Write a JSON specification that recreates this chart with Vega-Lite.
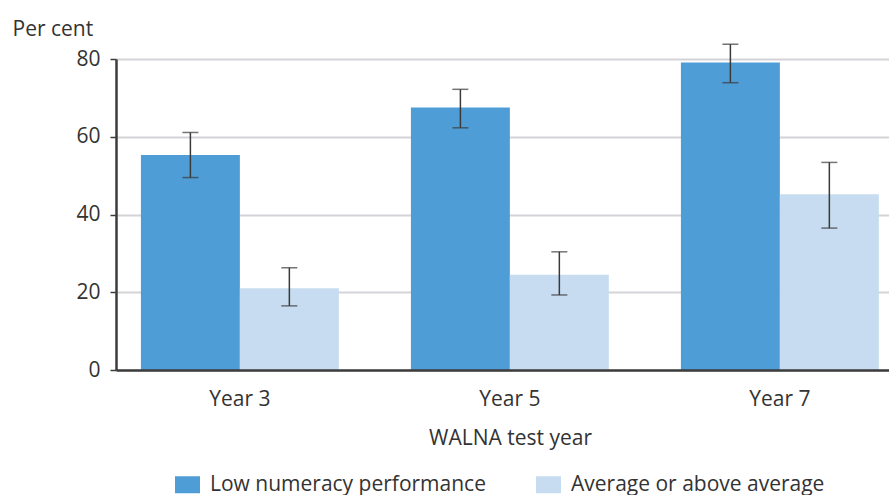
{
  "$schema": "https://vega.github.io/schema/vega-lite/v6.json",
  "width": 773,
  "height": 311,
  "autosize": "none",
  "padding": {"left": 116, "top": 59, "right": 0, "bottom": 125},
  "background": "white",
  "config": {
    "view": {"stroke": null},
    "font": "Open Sans",
    "axis": {"labelColor": "#333333", "titleColor": "#333333", "labelFont": "Open Sans", "titleFont": "Open Sans", "titleFontWeight": "normal"}
  },
  "data": {
    "values": [
      {"year": "Year 3", "group": "Low numeracy performance", "value": 55.3, "lo": 49.5, "hi": 61.1},
      {"year": "Year 3", "group": "Average or above average", "value": 21.0, "lo": 16.5, "hi": 26.3},
      {"year": "Year 5", "group": "Low numeracy performance", "value": 67.5, "lo": 62.3, "hi": 72.2},
      {"year": "Year 5", "group": "Average or above average", "value": 24.5, "lo": 19.3, "hi": 30.4},
      {"year": "Year 7", "group": "Low numeracy performance", "value": 79.1, "lo": 73.9, "hi": 83.8},
      {"year": "Year 7", "group": "Average or above average", "value": 45.2, "lo": 36.5, "hi": 53.4}
    ]
  },
  "encoding": {
    "x": {
      "field": "year",
      "type": "nominal",
      "scale": {"paddingInner": 0.267, "paddingOuter": 0.065, "align": 0.71},
      "axis": {
        "title": "WALNA test year",
        "labelAngle": 0,
        "labelFontSize": 21,
        "titleFontSize": 21,
        "ticks": false,
        "labelPadding": 18,
        "titlePadding": 18,
        "titleX": 394,
        "titleAlign": "center",
        "domainColor": "#3c3c3c",
        "domainWidth": 2.5,
        "zindex": 1
      }
    },
    "xOffset": {
      "field": "group",
      "type": "nominal",
      "sort": ["Low numeracy performance", "Average or above average"],
      "scale": {"paddingInner": 0, "paddingOuter": 0}
    }
  },
  "layer": [
    {
      "mark": {"type": "bar"},
      "encoding": {
        "y": {
          "field": "value",
          "type": "quantitative",
          "scale": {"domain": [0, 80], "nice": false},
          "axis": {
            "title": "Per cent",
            "titleAngle": 0,
            "titleAlign": "left",
            "titleBaseline": "alphabetic",
            "titleX": -104,
            "titleY": -24,
            "titleFontSize": 21,
            "labelFontSize": 21,
            "values": [0, 20, 40, 60, 80],
            "tickSize": 6,
            "tickColor": "#3c3c3c",
            "tickWidth": 1.5,
            "labelPadding": 10,
            "domainColor": "#3c3c3c",
            "domainWidth": 2.5,
            "gridColor": "#d3d3d8",
            "gridWidth": 2,
            "zindex": 0
          }
        },
        "color": {
          "field": "group",
          "type": "nominal",
          "sort": ["Low numeracy performance", "Average or above average"],
          "scale": {"range": ["#4f9dd6", "#c7dcf0"]},
          "legend": {
            "title": null,
            "orient": "none",
            "direction": "horizontal",
            "legendX": 59,
            "legendY": 413,
            "padding": 0,
            "symbolType": "M-1,-0.68H1V0.68H-1Z",
            "symbolSize": 625,
            "symbolStrokeWidth": 0,
            "symbolOpacity": 1,
            "labelFontSize": 21,
            "labelColor": "#333333",
            "labelOffset": 10,
            "columnPadding": 50,
            "labelLimit": 400
          }
        }
      }
    },
    {
      "mark": {"type": "rule", "color": "#3a3a3a", "strokeWidth": 1.5},
      "encoding": {
        "y": {"field": "lo", "type": "quantitative"},
        "y2": {"field": "hi"}
      }
    },
    {
      "mark": {"type": "tick", "color": "#3a3a3a", "thickness": 1.5, "size": 16},
      "encoding": {"y": {"field": "lo", "type": "quantitative"}}
    },
    {
      "mark": {"type": "tick", "color": "#3a3a3a", "thickness": 1.5, "size": 16},
      "encoding": {"y": {"field": "hi", "type": "quantitative"}}
    }
  ]
}
